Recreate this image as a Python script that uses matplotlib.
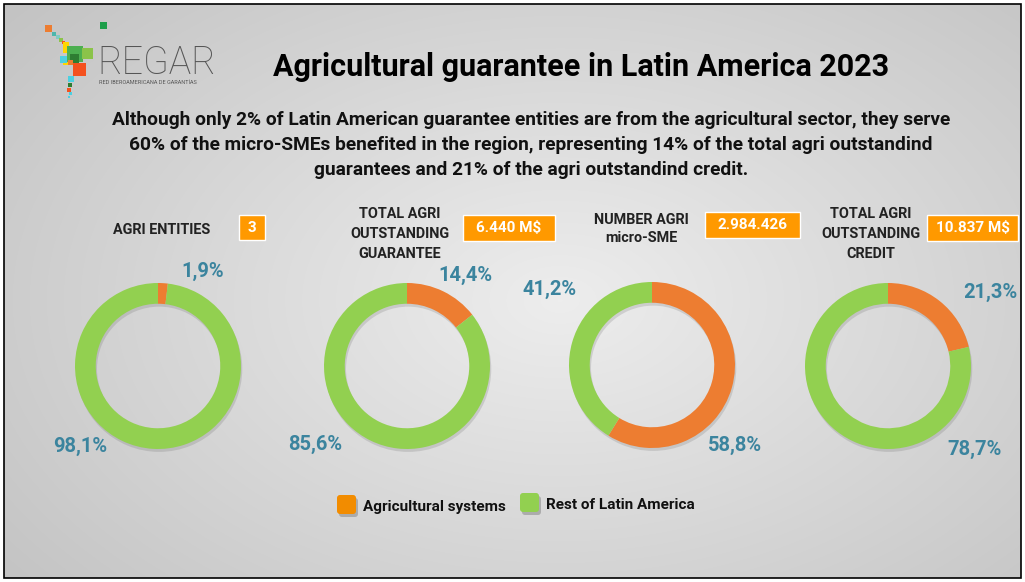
import matplotlib.pyplot as plt
import numpy as np
from matplotlib.patches import Rectangle, FancyBboxPatch

# ---------------- data ----------------
titles = ["AGRI ENTITIES", "TOTAL AGRI\nOUTSTANDING\nGUARANTEE",
          "NUMBER AGRI\nmicro-SME", "TOTAL AGRI\nOUTSTANDING\nCREDIT"]
badges = ["3", "6.440 M$", "2.984.426", "10.837 M$"]
agri_share = [1.9, 14.4, 58.8, 21.3]
rest_share = [98.1, 85.6, 41.2, 78.7]
series_names = ["Agricultural systems", "Rest of Latin America"]

ORANGE = "#ED7D31"
GREEN = "#92D050"
BADGE = "#FF9900"
PCT = "#3B849E"
W, H = 1025, 582

plt.rcParams['font.family'] = ['Roboto', 'DejaVu Sans']

fig = plt.figure(figsize=(W / 100, H / 100), dpi=100)
fig.patch.set_facecolor("white")

# background with radial gradient
bg = fig.add_axes([0, 0, 1, 1])
bg.set_xlim(0, W)
bg.set_ylim(H, 0)
bg.axis("off")
yy, xx = np.mgrid[0:H, 0:W]
r = np.sqrt(((xx - 560) / 700) ** 2 + ((yy - 300) / 450) ** 2)
shade = 0.93 - 0.16 * r
img = np.dstack([shade, shade, shade])
bg.imshow(img, extent=[4, 1021, 578, 4], zorder=0, aspect="auto")
bg.add_patch(Rectangle((4, 4), 1017, 574, fill=False, ec="black", lw=1.2, zorder=5))

# logo (squares + text)
logo = [(45, 25, 7, ORANGE), (52, 32, 4, "#4DB6AC"), (56, 35, 4, "#80CBC4"),
        (59, 38, 4, "#8BC34A"), (62, 41, 3, "#F4511E"), (100, 22, 7, "#1E9E4A"),
        (63, 42, 6, "#FFD600"), (63, 48, 5, "#FFD600"), (63, 60, 5, "#FFD600"),
        (67, 46, 16, "#4CAF50"), (82, 48, 11, "#8BC34A"), (60, 56, 7, "#4DD0E1"),
        (70, 54, 9, "#2E7D32"), (73, 63, 13, "#F4511E"), (68, 60, 5, ORANGE),
        (68, 76, 6, "#4DD0E1"), (68, 83, 4, "#2E7D32"), (67, 88, 4, "#F4511E"),
        (69, 92, 3, "#4DD0E1"), (68, 96, 2, "#4DD0E1")]
for x, y, s, c in logo:
    bg.add_patch(Rectangle((x, y), s, s, color=c, lw=0, zorder=2))
bg.text(97, 63, "REGAR", fontsize=27, color="#555555", ha="left", va="center",
        fontweight="light", zorder=3)
bg.text(99, 83, "RED IBEROAMERICANA DE GARANTÍAS", fontsize=4, color="#555555",
        ha="left", va="center", zorder=3)

# title and subtitle
bg.text(581, 67, "Agricultural guarantee in Latin America 2023", fontsize=22,
        fontweight="bold", ha="center", va="center", color="black", zorder=3)
sub = ["Although only 2% of Latin American guarantee entities are from the agricultural sector, they serve",
       "60% of the micro-SMEs benefited in the region, representing 14% of the total agri outstandind",
       "guarantees and 21% of the agri outstandind credit."]
for i, line in enumerate(sub):
    bg.text(531, 120 + 25 * i, line, fontsize=13.8, fontweight="bold", ha="center",
            va="center", color="#111111", zorder=3)

# headings + badges
head_xy = [(162, 230), (400, 234), (641, 229), (871, 234)]
head_ls = [1.5, 1.5, 1.3, 1.5]
badge_box = [(239, 215, 26, 25), (463, 215, 92, 26), (705, 212, 95, 26), (927, 215, 91, 26)]
for t, (hx, hy), ls, b, (bx, by, bw, bh) in zip(titles, head_xy, head_ls, badges, badge_box):
    bg.text(hx, hy, t, fontsize=10.4, fontweight="bold", ha="center", va="center",
            color="#222222", linespacing=ls, zorder=3)
    bg.add_patch(Rectangle((bx, by), bw, bh, fc=BADGE, ec="white", lw=1, zorder=3))
    bg.text(bx + bw / 2, by + bh / 2, b, fontsize=11, fontweight="bold", color="white",
            ha="center", va="center", zorder=4)

# donuts
centers = [(158, 366), (407, 366), (652, 365), (888, 366)]
R = 83
for i, (cx, cy) in enumerate(centers):
    ax = fig.add_axes([(cx - R - 4) / W, 1 - (cy + R + 4) / H, 2 * (R + 4) / W, 2 * (R + 4) / H])
    ax.patch.set_visible(False)
    # soft shadow
    ax.pie([1], colors=["#555555"], radius=1, center=(0.015, -0.035),
           wedgeprops=dict(width=0.25, linewidth=0, alpha=0.18))
    ax.pie([agri_share[i], rest_share[i]], colors=[ORANGE, GREEN], startangle=90,
           counterclock=False, radius=1,
           wedgeprops=dict(width=0.25, edgecolor="none", linewidth=0))
    lim = (R + 4) / R
    ax.set_xlim(-lim, lim)
    ax.set_ylim(-lim, lim)
    ax.set_aspect("equal")
    ax.axis("off")

# overlay for percentage labels
top = fig.add_axes([0, 0, 1, 1])
top.set_xlim(0, W)
top.set_ylim(H, 0)
top.axis("off")
top.patch.set_visible(False)
agri_lbl = [(203, 271), (465, 275), (735, 445), (990, 292)]
rest_lbl = [(80, 446), (315, 444), (550, 289), (975, 449)]
for i in range(4):
    top.text(*agri_lbl[i], f"{agri_share[i]:.1f}%".replace(".", ","), fontsize=14.5,
             fontweight="bold", color=PCT, ha="center", va="center")
    top.text(*rest_lbl[i], f"{rest_share[i]:.1f}%".replace(".", ","), fontsize=14.5,
             fontweight="bold", color=PCT, ha="center", va="center")

# legend
for (x, y), c, name in zip([(337, 495), (520, 493)], ["#F28C00", GREEN], series_names):
    top.add_patch(FancyBboxPatch((x + 2, y + 3), 19, 19, boxstyle="round,pad=0,rounding_size=3",
                                 fc="#777777", ec="none", alpha=0.45))
    top.add_patch(FancyBboxPatch((x, y), 19, 19, boxstyle="round,pad=0,rounding_size=3",
                                 fc=c, ec="none"))
    top.text(x + 26, y + 12, name, fontsize=11, fontweight="bold", color="#111111",
             ha="left", va="center")

fig.savefig("out.png", dpi=100)
